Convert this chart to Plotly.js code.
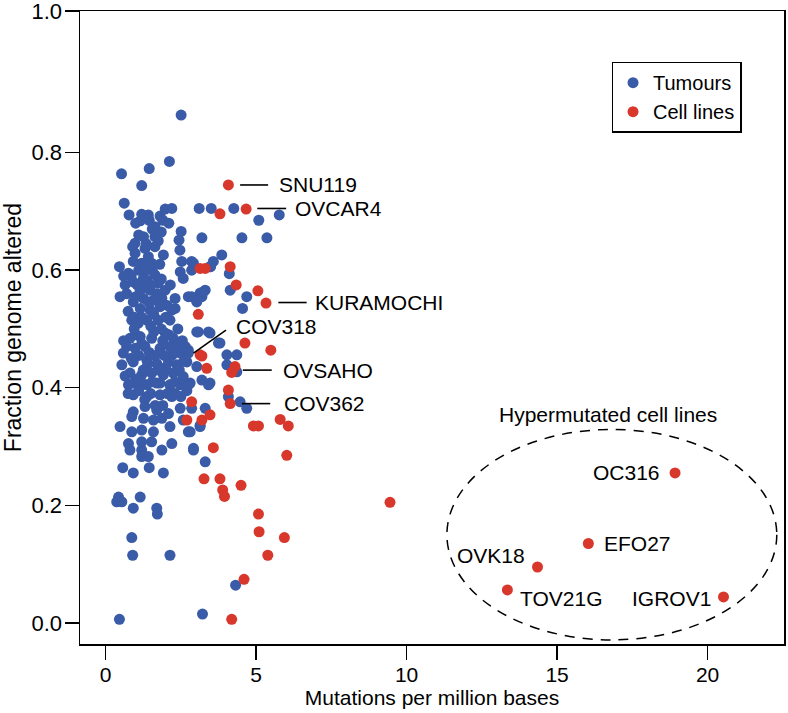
<!DOCTYPE html>
<html>
<head>
<meta charset="utf-8">
<script src="https://cdn.plot.ly/plotly-3.0.1.min.js"></script>
<style>html,body{margin:0;padding:0;background:#fff;}#chart{width:788px;height:713px;}</style>
</head>
<body>
<div id="chart"></div>
<script>
// ---------- DATA ----------
var tumourX = [2.51,2.12,1.45,0.53,1.20,0.62,0.78,1.15,1.42,1.81,1.98,2.20,1.64,1.90,3.11,3.51,4.26,5.09,5.77,3.20,4.53,5.36,2.51,2.44,2.47,
  0.98,1.26,1.64,0.98,0.92,1.20,1.42,1.64,1.53,1.92,1.31,0.46,2.53,2.86,3.58,3.86,2.48,2.58,2.86,3.49,4.11,
  0.76,0.65,0.48,0.92,1.15,1.37,1.64,1.75,1.48,0.92,1.26,1.59,1.87,1.98,2.31,2.31,1.15,1.48,1.81,0.87,1.09,1.37,1.75,2.14,2.20,
  2.75,3.03,3.31,3.20,4.14,4.69,4.55,3.03,3.42,3.75,4.03,4.36,4.36,
  0.81,1.15,1.53,1.98,2.25,0.59,0.98,1.31,1.81,2.14,2.48,2.75,0.54,0.92,1.37,1.70,2.09,2.37,2.70,3.03,0.81,1.20,1.53,1.92,2.25,2.58,
  0.92,1.37,1.81,2.14,2.48,2.81,3.20,3.47,4.03,
  0.76,1.20,1.70,2.14,2.75,3.42,0.92,1.37,1.81,2.31,2.48,2.86,3.31,4.08,4.47,4.69,0.92,1.31,1.70,2.09,0.87,1.26,1.59,1.87,2.58,
  0.48,0.87,1.20,1.59,2.14,2.81,3.14,0.76,1.20,1.53,0.81,1.20,1.87,2.20,2.92,1.20,1.42,3.31,0.57,0.92,1.45,1.92,
  0.43,0.37,0.54,1.15,0.92,1.70,1.72,0.87,0.90,2.14,4.32,0.46,3.22,
  2.92,3.47,3.14,3.25,2.86,3.08,3.47,3.80,2.75,3.14,2.75,2.92,
  0.70,1.00,1.10,1.25,1.45,1.60,1.65,1.90,2.00,2.20,2.35,2.45,2.60,2.65,0.85,1.05,1.40,1.55,1.75,1.95,2.05,2.30,0.65,0.75,1.10,1.30,
  1.50,1.65,1.90,2.20,2.50,2.70,0.60,1.20,1.50,1.85,2.10,2.40,2.55,0.95,
  0.70,0.85,1.00,1.10,1.30,1.45,1.55,1.70,1.85,2.05,2.15,0.75,0.95,1.20,1.60,2.00,1.35,1.05,0.60,1.25,1.80,1.50,
  1.10,1.35,1.55,1.75,1.00,1.20,1.85,2.10,1.45,0.90];
var tumourY = [0.864,0.785,0.773,0.764,0.744,0.714,0.694,0.684,0.694,0.692,0.704,0.705,0.674,0.685,0.705,0.705,0.705,0.685,0.694,0.655,0.655,0.655,0.666,0.651,0.634,
  0.646,0.657,0.657,0.629,0.615,0.612,0.623,0.640,0.612,0.626,0.637,0.606,0.615,0.615,0.615,0.626,0.597,0.586,0.600,0.606,0.594,
  0.595,0.575,0.555,0.580,0.566,0.583,0.592,0.578,0.566,0.546,0.552,0.549,0.552,0.566,0.552,0.535,0.535,0.532,0.538,0.515,0.510,0.515,0.515,0.515,0.532,
  0.555,0.546,0.566,0.555,0.566,0.555,0.535,0.495,0.495,0.476,0.456,0.456,0.427,
  0.484,0.487,0.484,0.493,0.484,0.459,0.467,0.470,0.467,0.470,0.459,0.464,0.439,0.444,0.447,0.441,0.444,0.439,0.444,0.436,0.425,0.422,0.425,0.422,0.425,0.419,
  0.408,0.405,0.408,0.405,0.405,0.408,0.413,0.408,0.439,
  0.405,0.408,0.408,0.405,0.405,0.405,0.388,0.385,0.388,0.390,0.365,0.365,0.365,0.385,0.376,0.365,0.359,0.368,0.362,0.356,0.351,0.348,0.345,0.348,0.345,
  0.334,0.325,0.328,0.325,0.334,0.325,0.334,0.305,0.308,0.308,0.294,0.294,0.294,0.305,0.294,0.283,0.283,0.274,0.264,0.255,0.264,0.255,
  0.214,0.206,0.206,0.214,0.195,0.195,0.185,0.145,0.115,0.115,0.064,0.006,0.015,
  0.612,0.606,0.561,0.563,0.555,0.495,0.493,0.476,0.459,0.336,0.325,0.297,
  0.470,0.490,0.455,0.430,0.460,0.495,0.455,0.480,0.435,0.455,0.470,0.430,0.445,0.470,0.450,0.415,0.440,0.410,0.430,0.455,0.390,0.410,0.420,0.390,0.395,0.380,
  0.390,0.370,0.370,0.385,0.385,0.395,0.480,0.475,0.505,0.500,0.490,0.500,0.480,0.500,
  0.560,0.590,0.555,0.600,0.570,0.545,0.600,0.560,0.585,0.540,0.575,0.530,0.520,0.520,0.525,0.520,0.600,0.575,0.590,0.585,0.610,0.575,
  0.660,0.645,0.670,0.650,0.680,0.695,0.665,0.680,0.685,0.640];

// cell lines without a label
var cellX = [3.80,3.14,3.31,4.14,4.34,5.06,3.08,4.63,5.49,3.20,3.36,4.19,2.86,4.08,4.91,5.08,5.80,6.07,3.47,2.70,3.20,3.58,
  6.02,3.27,3.80,3.89,3.95,4.50,5.08,5.10,5.94,5.39,4.60,4.19,9.45];
var cellY = [0.696,0.603,0.603,0.606,0.575,0.565,0.525,0.476,0.464,0.454,0.433,0.426,0.376,0.396,0.335,0.335,0.346,0.335,0.354,0.345,0.345,0.298,
  0.285,0.245,0.245,0.226,0.215,0.234,0.185,0.155,0.145,0.115,0.074,0.006,0.205];

// labelled cell lines
var labelNames = ["SNU119","OVCAR4","KURAMOCHI","COV318","OVSAHO","COV362","OC316","EFO27","OVK18","TOV21G","IGROV1"];
var labelX = [4.08,4.67,5.33,3.14,4.30,4.14,18.92,16.04,14.35,13.35,20.53];
var labelY = [0.745,0.704,0.544,0.456,0.436,0.373,0.255,0.135,0.095,0.056,0.044];

var xTicks = [0,5,10,15,20];
var yTickText = ["0.0","0.2","0.4","0.6","0.8","1.0"];

// ---------- LAYOUT HELPERS ----------
var FONT = "Liberation Sans, Arial, Helvetica, sans-serif";
var BLUE = "#3a5ba8";
var RED = "#d8372b";
var yTop = 1.041;

// label placement: line [start dx, end dx, dy], text [dx, dy, anchor]
var place = {
  "SNU119":    {l:[0.39,1.32,0], t:[1.61,0,"left"]},
  "OVCAR4":    {l:[0.37,1.33,0.001], t:[1.55,0.001,"left"]},
  "KURAMOCHI": {l:[0.41,1.35,0.001], t:[1.57,0.001,"left"]},
  "COV318":    {l:[-0.22,0.86,0.003], t:[1.14,0.048,"left"], diag:0.039},
  "OVSAHO":    {l:[0.26,1.22,-0.006], t:[1.53,-0.006,"left"]},
  "COV362":    {l:[0.39,1.33,0], t:[1.71,0,"left"]},
  "OC316":     {t:[-0.44,0,"right"]},
  "EFO27":     {t:[0.44,0,"left"]},
  "OVK18":     {t:[-0.36,0.019,"right"]},
  "TOV21G":    {t:[0.36,-0.014,"left"]},
  "IGROV1":    {t:[-0.36,-0.003,"right"]}
};

var shapes = [];
var annotations = [];
for (var i = 0; i < labelNames.length; i++) {
  var p = place[labelNames[i]];
  var x = labelX[i], y = labelY[i];
  if (p.l) {
    shapes.push({type:"line", xref:"x", yref:"y",
      x0:x+p.l[0], x1:x+p.l[1], y0:y+p.l[2], y1:y+p.l[2]+(p.diag||0),
      line:{color:"black", width:1.6}});
  }
  annotations.push({xref:"x", yref:"y", x:x+p.t[0], y:y+p.t[1], text:labelNames[i],
    showarrow:false, xanchor:p.t[2], yanchor:"middle",
    font:{family:FONT, size:21, color:"black"}});
}
// hypermutated group
shapes.push({type:"circle", xref:"x", yref:"y", x0:11.34, x1:22.30, y0:-0.029, y1:0.329,
  line:{color:"black", width:1.5, dash:"10px,8px"}});
annotations.push({xref:"x", yref:"y", x:16.7, y:0.354, text:"Hypermutated cell lines",
  showarrow:false, xanchor:"center", yanchor:"middle", font:{family:FONT, size:21, color:"black"}});

var traces = [
  {type:"scatter", mode:"markers", name:"Tumours", x:tumourX, y:tumourY,
   marker:{color:BLUE, size:11, line:{width:0}}},
  {type:"scatter", mode:"markers", name:"Cell lines", x:cellX.concat(labelX), y:cellY.concat(labelY),
   marker:{color:RED, size:11, line:{width:0}}}
];

var layout = {
  width:788, height:713,
  margin:{l:80, r:4, t:11, b:69, pad:0},
  paper_bgcolor:"white", plot_bgcolor:"white",
  font:{family:FONT, size:20, color:"black"},
  showlegend:true,
  legend:{x:0.755, y:0.92, xanchor:"left", yanchor:"top", bgcolor:"white",
    bordercolor:"black", borderwidth:1.5, font:{family:FONT, size:20}, itemwidth:30, tracegroupgap:0},
  xaxis:{range:[-0.85,22.54], tickvals:xTicks, ticktext:xTicks.map(String),
    ticks:"outside", ticklen:14, tickwidth:1.5, tickcolor:"black", ticklabelstandoff:-3,
    showline:true, mirror:true, linecolor:"black", linewidth:1.5,
    showgrid:false, zeroline:false, tickfont:{family:FONT, size:21},
    title:{text:"Mutations per million bases", font:{family:FONT, size:21}, standoff:0}},
  yaxis:{range:[-0.036,yTop], tickvals:[0,0.2,0.4,0.6,0.8,yTop], ticktext:yTickText,
    ticks:"outside", ticklen:14, tickwidth:1.5, tickcolor:"black", ticklabelstandoff:-2,
    ticklabeloverflow:"allow",
    showline:true, mirror:true, linecolor:"black", linewidth:1.5,
    showgrid:false, zeroline:false, tickfont:{family:FONT, size:22},
    title:{text:"Fraction genome altered", font:{family:FONT, size:23}, standoff:6}},
  shapes:shapes,
  annotations:annotations
};

Plotly.newPlot("chart", traces, layout, {staticPlot:true, displayModeBar:false});
</script>
</body>
</html>
